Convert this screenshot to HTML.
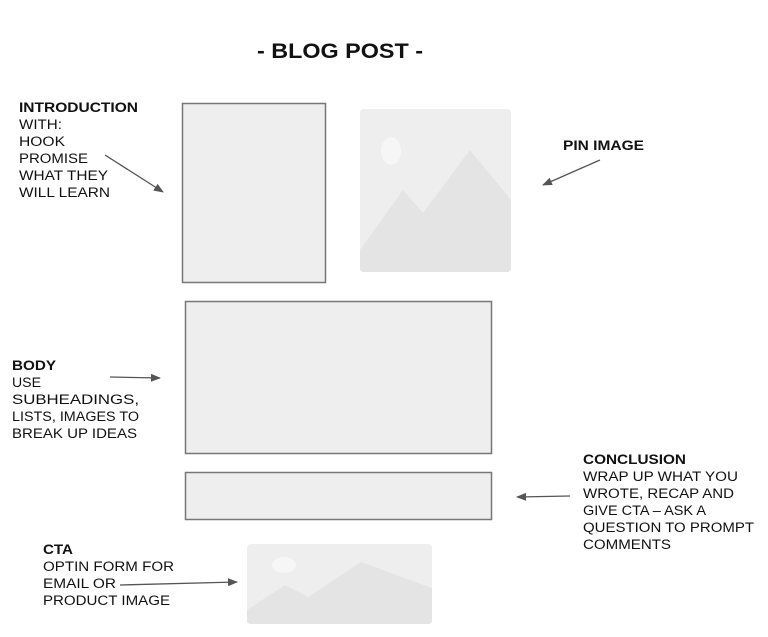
<!DOCTYPE html>
<html><head><meta charset="utf-8"><style>
html,body{margin:0;padding:0;background:#fff;width:768px;height:637px;overflow:hidden}
svg{display:block}
text{font-family:"Liberation Sans",sans-serif;font-size:13.5px;fill:#111}
.b{font-weight:bold}
</style></head><body>
<svg width="768" height="637" viewBox="0 0 768 637" xmlns="http://www.w3.org/2000/svg">
<defs><marker id="a" markerWidth="10" markerHeight="8" refX="9" refY="4" orient="auto" markerUnits="userSpaceOnUse"><path d="M0,0 L10,4 L0,8 z" fill="#555"/></marker></defs>
<text x="257" y="58" class="b" style="font-size:21px" textLength="166" lengthAdjust="spacingAndGlyphs">- BLOG POST -</text>

<rect x="182.5" y="103.5" width="143" height="179" fill="#eee" stroke="#777" stroke-width="1.5"/>
<rect x="185.5" y="301.5" width="306" height="152" fill="#eee" stroke="#777" stroke-width="1.5"/>
<rect x="185.5" y="472.5" width="306" height="47" fill="#eee" stroke="#777" stroke-width="1.5"/>

<rect x="360" y="109" width="151" height="163" rx="4" fill="#eee"/>
<path d="M360,250 L403,190 L423,213 L470,150 L511,200 L511,268 Q511,272 507,272 L364,272 Q360,272 360,268 Z" fill="#e4e4e4"/>
<ellipse cx="391" cy="151" rx="10" ry="14" fill="#f6f6f6"/>

<rect x="247" y="544" width="185" height="80" rx="4" fill="#eee"/>
<path d="M247,610 L285,585 L308,597 L361,562 L432,588 L432,620 Q432,624 428,624 L251,624 Q247,624 247,620 Z" fill="#e4e4e4"/>
<ellipse cx="284" cy="565" rx="12" ry="8" fill="#f6f6f6"/>

<g stroke="#555" stroke-width="1.3" fill="none" marker-end="url(#a)">
<line x1="105" y1="155" x2="163" y2="192"/>
<line x1="600" y1="160" x2="543" y2="185"/>
<line x1="110" y1="377" x2="160" y2="378"/>
<line x1="570" y1="496" x2="517" y2="497"/>
<line x1="120" y1="585" x2="237" y2="582"/>
</g>

<text x="19" y="112" class="b" textLength="119" lengthAdjust="spacingAndGlyphs">INTRODUCTION</text>
<text x="19" y="129" textLength="43" lengthAdjust="spacingAndGlyphs">WITH:</text>
<text x="19" y="146" textLength="46" lengthAdjust="spacingAndGlyphs">HOOK</text>
<text x="19" y="163" textLength="69" lengthAdjust="spacingAndGlyphs">PROMISE</text>
<text x="19" y="180" textLength="89" lengthAdjust="spacingAndGlyphs">WHAT THEY</text>
<text x="19" y="197" textLength="91" lengthAdjust="spacingAndGlyphs">WILL LEARN</text>

<text x="563" y="150" class="b" textLength="81" lengthAdjust="spacingAndGlyphs">PIN IMAGE</text>

<text x="12" y="370" class="b" textLength="44" lengthAdjust="spacingAndGlyphs">BODY</text>
<text x="12" y="387" textLength="29" lengthAdjust="spacingAndGlyphs">USE</text>
<text x="12" y="404" textLength="127" lengthAdjust="spacingAndGlyphs">SUBHEADINGS,</text>
<text x="12" y="421" textLength="127" lengthAdjust="spacingAndGlyphs">LISTS, IMAGES TO</text>
<text x="12" y="438" textLength="125" lengthAdjust="spacingAndGlyphs">BREAK UP IDEAS</text>

<text x="583" y="464" class="b" textLength="103" lengthAdjust="spacingAndGlyphs">CONCLUSION</text>
<text x="583" y="481" textLength="155" lengthAdjust="spacingAndGlyphs">WRAP UP WHAT YOU</text>
<text x="583" y="498" textLength="151" lengthAdjust="spacingAndGlyphs">WROTE, RECAP AND</text>
<text x="583" y="515" textLength="123" lengthAdjust="spacingAndGlyphs">GIVE CTA – ASK A</text>
<text x="583" y="532" textLength="171" lengthAdjust="spacingAndGlyphs">QUESTION TO PROMPT</text>
<text x="583" y="549" textLength="88" lengthAdjust="spacingAndGlyphs">COMMENTS</text>

<text x="43" y="554" class="b" textLength="30" lengthAdjust="spacingAndGlyphs">CTA</text>
<text x="43" y="571" textLength="131" lengthAdjust="spacingAndGlyphs">OPTIN FORM FOR</text>
<text x="43" y="588" textLength="73" lengthAdjust="spacingAndGlyphs">EMAIL OR</text>
<text x="43" y="605" textLength="127" lengthAdjust="spacingAndGlyphs">PRODUCT IMAGE</text>
</svg>
</body></html>
